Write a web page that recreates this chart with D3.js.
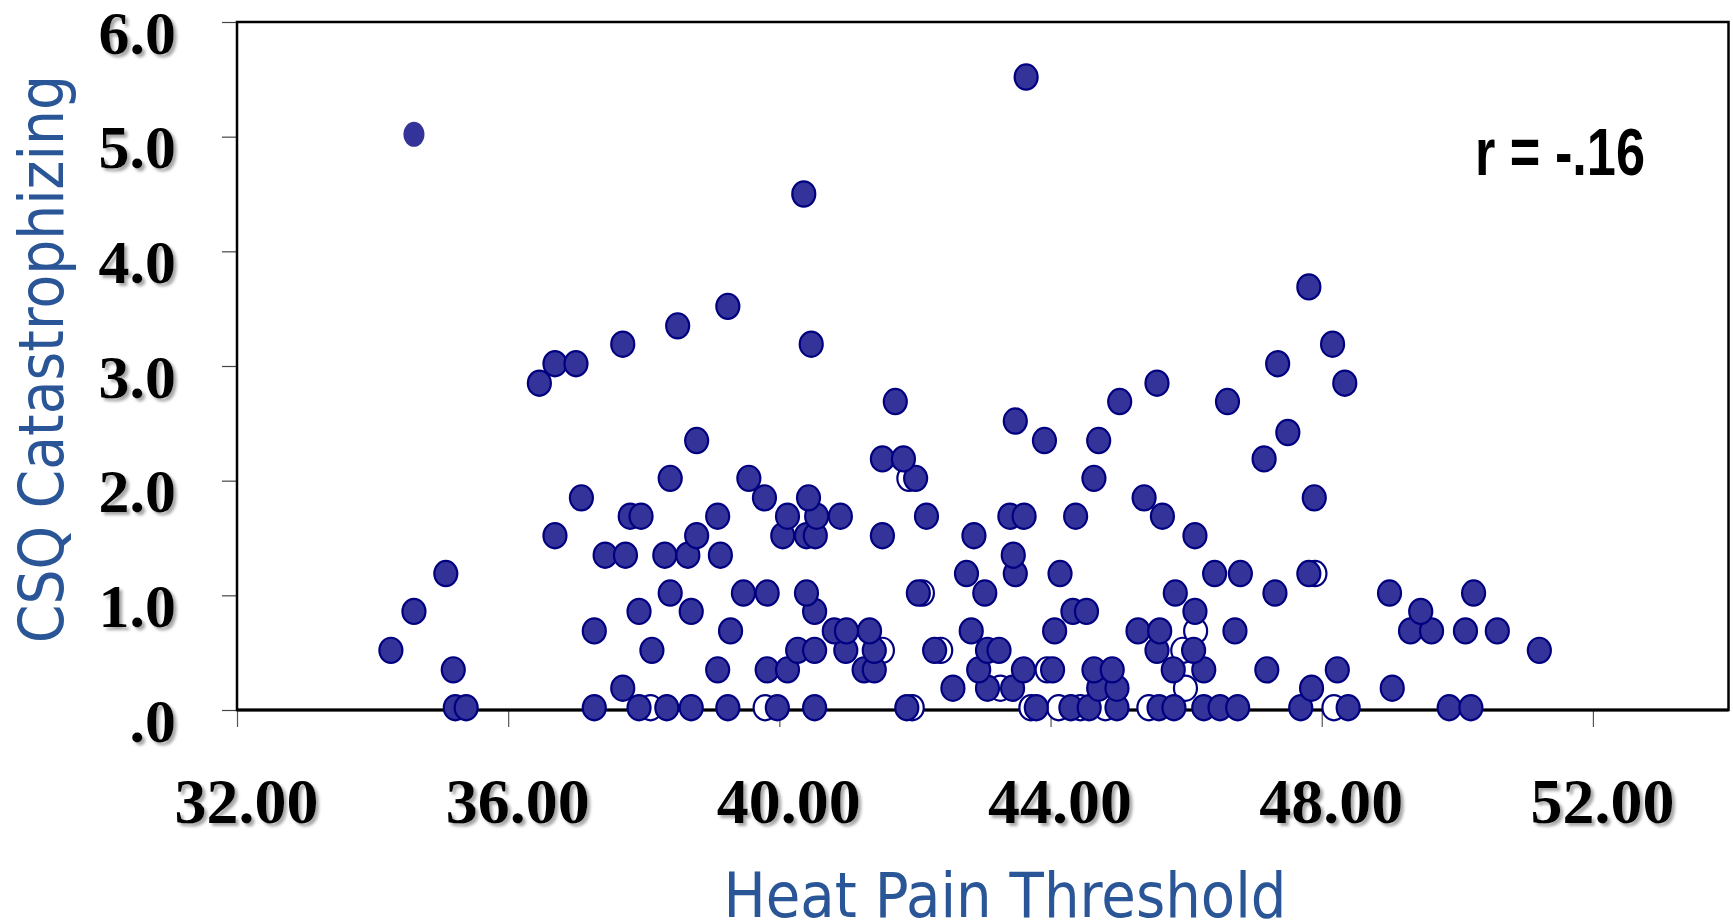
<!DOCTYPE html>
<html>
<head>
<meta charset="utf-8">
<script src="https://cdnjs.cloudflare.com/ajax/libs/d3/7.8.5/d3.min.js"></script>
<style>
  body { margin: 0; background: #fff; }
</style>
</head>
<body>
<div id="my_dataviz"></div>
<script>
// Filled markers: heat pain threshold (x) and CSQ catastrophizing (y), read row by row
const heatPain = [
    35.22, 35.38, 37.27, 37.93, 38.34, 38.70, 39.24, 39.97, 40.52, 41.88, 43.79, 44.30,
    44.57, 44.98, 45.60, 45.82, 46.26, 46.50, 46.76, 47.69, 48.39, 49.88, 50.20,
    37.69, 42.56, 43.07, 43.44, 44.71, 44.98, 47.85, 49.04,
    35.19, 39.09, 39.82, 40.12, 41.25, 41.40, 42.94, 43.60, 44.03, 44.64, 44.91, 45.81,
    46.26, 47.19, 48.23,
    34.27, 38.12, 40.27, 40.52, 40.98, 41.40, 42.29, 43.07, 43.24, 45.57, 46.11, 51.21,
    37.27, 39.28, 40.81, 40.99, 41.33, 42.83, 44.06, 45.29, 45.61, 46.72, 49.31, 49.62,
    50.12, 50.59,
    34.61, 37.93, 38.70, 40.52, 44.33, 44.53, 46.13, 49.46,
    38.39, 39.47, 39.82, 40.40, 42.05, 43.03, 45.84, 47.31, 49.00, 50.24,
    35.08, 42.76, 43.48, 44.14, 46.42, 46.80, 47.81,
    37.43, 37.73, 38.31, 38.65, 39.13, 43.45,
    36.69, 38.78, 40.05, 40.40, 40.53, 41.52, 42.87, 46.13,
    37.80, 37.96, 39.09, 40.12, 40.55, 40.90, 42.17, 43.40, 43.61, 44.37, 45.65,
    37.08, 39.78, 40.43, 45.38, 47.89,
    38.39, 39.55, 42.01, 44.64,
    41.52, 41.83, 47.15,
    38.78, 43.91, 44.71,
    47.50,
    43.48,
    41.71, 45.02, 46.61,
    36.46, 45.57, 48.34,
    36.69, 37.00, 47.35,
    37.69, 40.47, 48.16,
    38.50,
    39.24,
    47.81,
    40.36,
    43.64
];
const csq = [
    0.02, 0.02, 0.02, 0.02, 0.02, 0.02, 0.02, 0.02, 0.02, 0.02, 0.02, 0.02,
    0.02, 0.02, 0.02, 0.02, 0.02, 0.02, 0.02, 0.02, 0.02, 0.02, 0.02,
    0.19, 0.19, 0.19, 0.19, 0.19, 0.19, 0.19, 0.19,
    0.35, 0.35, 0.35, 0.35, 0.35, 0.35, 0.35, 0.35, 0.35, 0.35, 0.35, 0.35,
    0.35, 0.35, 0.35,
    0.52, 0.52, 0.52, 0.52, 0.52, 0.52, 0.52, 0.52, 0.52, 0.52, 0.52, 0.52,
    0.69, 0.69, 0.69, 0.69, 0.69, 0.69, 0.69, 0.69, 0.69, 0.69, 0.69, 0.69,
    0.69, 0.69,
    0.86, 0.86, 0.86, 0.86, 0.86, 0.86, 0.86, 0.86,
    1.02, 1.02, 1.02, 1.02, 1.02, 1.02, 1.02, 1.02, 1.02, 1.02,
    1.19, 1.19, 1.19, 1.19, 1.19, 1.19, 1.19,
    1.35, 1.35, 1.35, 1.35, 1.35, 1.35,
    1.52, 1.52, 1.52, 1.52, 1.52, 1.52, 1.52, 1.52,
    1.69, 1.69, 1.69, 1.69, 1.69, 1.69, 1.69, 1.69, 1.69, 1.69, 1.69,
    1.85, 1.85, 1.85, 1.85, 1.85,
    2.02, 2.02, 2.02, 2.02,
    2.19, 2.19, 2.19,
    2.35, 2.35, 2.35,
    2.42,
    2.52,
    2.69, 2.69, 2.69,
    2.85, 2.85, 2.85,
    3.02, 3.02, 3.02,
    3.19, 3.19, 3.19,
    3.35,
    3.52,
    3.69,
    4.50,
    5.52
];

// Open (white) markers, mostly hidden behind the filled ones
const openHeat = [38.10, 39.79, 41.96, 43.71, 44.12, 44.44, 44.81, 45.45, 48.18,
    43.26, 45.99, 43.95, 41.52, 42.38, 45.95, 46.14, 42.11, 47.90, 41.91];
const openCsq = [0.02, 0.02, 0.02, 0.02, 0.02, 0.02, 0.02, 0.02, 0.02,
    0.19, 0.19, 0.35, 0.52, 0.52, 0.52, 0.69, 1.02, 1.19, 2.02];

// The one small marker without outline
const smallPoint = [34.61, 5.02];

const xTicks = [32, 36, 40, 44, 48, 52];
const xTickLabels = ["32.00", "36.00", "40.00", "44.00", "48.00", "52.00"];
const yTicks = [0, 1, 2, 3, 4, 5, 6];
const yTickLabels = [".0", "1.0", "2.0", "3.0", "4.0", "5.0", "6.0"];

// Set the dimensions and margins of the graph
const margin = { top: 22, right: 4.5, bottom: 210, left: 237 };
const width = 1733 - margin.left - margin.right;
const height = 920 - margin.top - margin.bottom;

const svg = d3
    .select("#my_dataviz")
    .append("svg")
    .attr("width", 1733)
    .attr("height", 920);

// soft grey shadow under the tick labels
const shadow = svg.append("defs").append("filter")
    .attr("id", "shadow")
    .attr("x", "-20%").attr("y", "-20%")
    .attr("width", "150%").attr("height", "150%");
shadow.append("feDropShadow")
    .attr("dx", 3).attr("dy", 3)
    .attr("stdDeviation", 1.4)
    .attr("flood-color", "#8a8a8a")
    .attr("flood-opacity", 0.75);

const g = svg.append("g")
    .attr("transform", `translate(${margin.left},${margin.top})`);

const x = d3.scaleLinear().domain([32, 54]).range([0, width]);
const y = d3.scaleLinear().domain([0, 6]).range([height, 0]);

// Axes
const yAxis = g.append("g")
    .call(d3.axisLeft(y)
        .tickValues(yTicks)
        .tickFormat((d, i) => yTickLabels[i])
        .tickSize(15)
        .tickPadding(46));
yAxis.select(".domain").remove();
yAxis.selectAll(".tick line").attr("stroke", "#444").attr("stroke-width", 1.2);
yAxis.selectAll(".tick text")
    .attr("dy", 31)
    .attr("fill", "#000")
    .style("font-family", "'Liberation Serif', 'Times New Roman', serif")
    .style("font-weight", "bold")
    .style("font-size", "62px")
    .attr("filter", "url(#shadow)");

const xAxis = g.append("g")
    .attr("transform", `translate(0,${height})`)
    .call(d3.axisBottom(x)
        .tickValues(xTicks)
        .tickFormat((d, i) => xTickLabels[i])
        .tickSize(17));
xAxis.select(".domain").remove();
xAxis.selectAll(".tick line").attr("stroke", "#555").attr("stroke-width", 1.2);
xAxis.selectAll(".tick text")
    .attr("y", 113)
    .attr("dy", 0)
    .attr("x", 9)
    .attr("fill", "#000")
    .style("font-family", "'Liberation Serif', 'Times New Roman', serif")
    .style("font-weight", "bold")
    .style("font-size", "64px")
    .attr("filter", "url(#shadow)");

// Plot frame
g.append("rect")
    .attr("x", 0).attr("y", 0)
    .attr("width", width).attr("height", height)
    .attr("fill", "none")
    .attr("stroke", "#000")
    .attr("stroke-width", 2.5);
g.append("line")
    .attr("x1", 0).attr("x2", width)
    .attr("y1", height).attr("y2", height)
    .attr("stroke", "#000")
    .attr("stroke-width", 3.2);

// Open markers first, filled markers on top
g.selectAll("ellipse.open")
    .data(d3.range(openHeat.length))
    .join("ellipse")
    .attr("class", "open")
    .attr("cx", (i) => x(openHeat[i]))
    .attr("cy", (i) => y(openCsq[i]))
    .attr("rx", 11.5)
    .attr("ry", 12.6)
    .attr("fill", "#fff")
    .attr("stroke", "#000080")
    .attr("stroke-width", 2.2);

g.selectAll("ellipse.filled")
    .data(d3.range(heatPain.length))
    .join("ellipse")
    .attr("class", "filled")
    .attr("cx", (i) => x(heatPain[i]))
    .attr("cy", (i) => y(csq[i]))
    .attr("rx", 11.5)
    .attr("ry", 12.6)
    .attr("fill", "#333399")
    .attr("stroke", "#000080")
    .attr("stroke-width", 2.2);

g.append("ellipse")
    .attr("cx", x(smallPoint[0]))
    .attr("cy", y(smallPoint[1]))
    .attr("rx", 10.5)
    .attr("ry", 12.5)
    .attr("fill", "#333399");

// Correlation note
svg.append("text")
    .attr("x", 1475)
    .attr("y", 175)
    .attr("textLength", 170)
    .attr("lengthAdjust", "spacingAndGlyphs")
    .style("font-family", "'Liberation Sans', Arial, sans-serif")
    .style("font-weight", "bold")
    .style("font-size", "66px")
    .attr("fill", "#000")
    .text("r = -.16");

// Axis titles
svg.append("text")
    .attr("x", 1005)
    .attr("y", 917)
    .attr("text-anchor", "middle")
    .attr("textLength", 563)
    .attr("lengthAdjust", "spacingAndGlyphs")
    .style("font-family", "'DejaVu Sans', Verdana, sans-serif")
    .style("font-size", "63px")
    .attr("fill", "#2a5596")
    .text("Heat Pain Threshold");

svg.append("text")
    .attr("transform", "translate(63,359)rotate(-90)")
    .attr("text-anchor", "middle")
    .attr("textLength", 568)
    .attr("lengthAdjust", "spacingAndGlyphs")
    .style("font-family", "'DejaVu Sans', Verdana, sans-serif")
    .style("font-size", "63px")
    .attr("fill", "#2a5596")
    .text("CSQ Catastrophizing");
</script>
</body>
</html>
